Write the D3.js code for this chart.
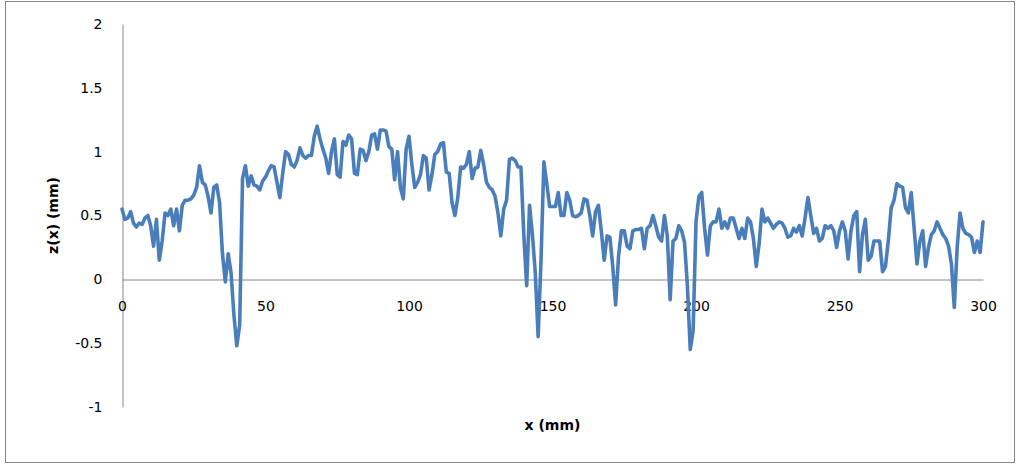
<!DOCTYPE html>
<html>
<head>
<meta charset="utf-8">
<script src="https://cdn.jsdelivr.net/npm/d3@7"></script>
<style>
  body { margin: 0; background: #fff; }
  text { font-family: "DejaVu Sans", Verdana, sans-serif; }
</style>
</head>
<body>
<div id="chart"></div>
<script>
// profile heights z(x), one reading per mm from 0 to 300
var zValues = [
  0.55, 0.47, 0.48, 0.53, 0.44, 0.41, 0.44, 0.43, 0.48, 0.5, 0.42, 0.26, 0.47, 0.15, 0.3, 0.52, 0.5, 0.55, 0.42, 0.55,
  0.38, 0.58, 0.62, 0.62, 0.63, 0.66, 0.72, 0.89, 0.76, 0.74, 0.65, 0.52, 0.72, 0.74, 0.6, 0.2, -0.02, 0.2, 0.05, -0.28,
  -0.52, -0.36, 0.79, 0.89, 0.73, 0.81, 0.74, 0.73, 0.7, 0.77, 0.8, 0.85, 0.89, 0.88, 0.76, 0.64, 0.83, 1.0, 0.98, 0.9,
  0.88, 0.93, 1.03, 0.97, 0.95, 0.97, 0.97, 1.12, 1.2, 1.1, 1.02, 0.95, 0.83, 1.0, 1.1, 0.82, 0.8, 1.08, 1.05, 1.13,
  1.1, 0.83, 0.82, 1.02, 1.01, 0.93, 1.0, 1.13, 1.14, 1.02, 1.17, 1.17, 1.16, 1.04, 1.02, 0.78, 1.0, 0.72, 0.63, 1.02,
  1.12, 0.9, 0.72, 0.76, 0.82, 0.97, 0.95, 0.7, 0.82, 0.98, 1.0, 1.06, 1.07, 0.84, 0.83, 0.6, 0.5, 0.64, 0.88, 0.87,
  0.9, 1.0, 0.79, 0.87, 0.88, 1.01, 0.9, 0.76, 0.72, 0.7, 0.65, 0.52, 0.34, 0.55, 0.62, 0.94, 0.95, 0.93, 0.88, 0.88,
  0.35, -0.05, 0.58, 0.35, 0.05, -0.45, 0.15, 0.92, 0.75, 0.57, 0.57, 0.57, 0.68, 0.5, 0.5, 0.68, 0.62, 0.5, 0.49, 0.5,
  0.52, 0.63, 0.62, 0.5, 0.34, 0.53, 0.58, 0.38, 0.15, 0.34, 0.33, 0.1, -0.2, 0.18, 0.38, 0.38, 0.26, 0.24, 0.38, 0.39,
  0.39, 0.4, 0.24, 0.4, 0.42, 0.5, 0.42, 0.33, 0.3, 0.5, 0.34, -0.16, 0.3, 0.32, 0.42, 0.38, 0.29, -0.05, -0.55, -0.4,
  0.45, 0.65, 0.68, 0.4, 0.19, 0.42, 0.45, 0.45, 0.55, 0.4, 0.45, 0.4, 0.48, 0.48, 0.4, 0.32, 0.4, 0.32, 0.48, 0.45,
  0.32, 0.1, 0.28, 0.55, 0.45, 0.48, 0.44, 0.4, 0.43, 0.45, 0.44, 0.4, 0.33, 0.34, 0.4, 0.37, 0.42, 0.34, 0.48, 0.64,
  0.5, 0.36, 0.4, 0.3, 0.32, 0.42, 0.4, 0.42, 0.38, 0.25, 0.38, 0.45, 0.38, 0.16, 0.38, 0.5, 0.53, 0.06, 0.35, 0.47,
  0.15, 0.18, 0.3, 0.3, 0.3, 0.06, 0.1, 0.3, 0.56, 0.62, 0.75, 0.73, 0.72, 0.56, 0.52, 0.68, 0.4, 0.12, 0.3, 0.38,
  0.1, 0.25, 0.35, 0.38, 0.45, 0.4, 0.35, 0.32, 0.26, 0.12, -0.22, 0.25, 0.52, 0.4, 0.36, 0.35, 0.33, 0.21, 0.3, 0.21,
  0.45
];
var xTicks = [0, 50, 100, 150, 200, 250, 300];
var yTicks = [-1, -0.5, 0, 0.5, 1, 1.5, 2];

var W = 1019, H = 465;
var margin = { top: 24, right: 36, bottom: 58, left: 122 },
    width = W - margin.left - margin.right,
    height = H - margin.top - margin.bottom;

var svg = d3.select("#chart")
  .append("svg")
    .attr("width", W)
    .attr("height", H);

// outer chart border
svg.append("rect")
  .attr("x", 5.5)
  .attr("y", 1.5)
  .attr("width", W - 10)
  .attr("height", H - 4)
  .attr("fill", "#fff")
  .attr("stroke", "#868686")
  .attr("stroke-width", 1);

var g = svg.append("g")
  .attr("transform", "translate(" + margin.left + "," + margin.top + ")");

var x = d3.scaleLinear().domain([0, 300]).range([0, width]);
var y = d3.scaleLinear().domain([-1, 2]).range([height, 0]);

// y axis: line at x=0, labels on the left (plain hyphen for negatives)
var yAxis = d3.axisLeft(y).tickValues(yTicks).tickSize(0).tickPadding(20)
  .tickFormat(function(d) { return String(d); });
var ya = g.append("g").attr("transform", "translate(0.5,0)").call(yAxis);
ya.select(".domain").attr("stroke", "#868686");
ya.selectAll("text").attr("font-size", "14px").attr("fill", "#000")
  .attr("font-family", "DejaVu Sans, sans-serif");

// x axis runs along z = 0
var xAxis = d3.axisBottom(x).tickValues(xTicks).tickSize(0).tickPadding(22);
var xa = g.append("g").attr("transform", "translate(0," + (Math.round(y(0)) + 0.5) + ")").call(xAxis);
xa.select(".domain").attr("stroke", "#868686");
xa.selectAll("text").attr("font-size", "14px").attr("fill", "#000")
  .attr("font-family", "DejaVu Sans, sans-serif");

// the profile line
var line = d3.line()
  .x(function(d, i) { return x(i); })
  .y(function(d) { return y(d); });

g.append("path")
  .datum(zValues)
  .attr("fill", "none")
  .attr("stroke", "#4a7ebb")
  .attr("stroke-width", 3.6)
  .attr("stroke-linejoin", "round")
  .attr("stroke-linecap", "round")
  .attr("d", line);

// axis titles
svg.append("text")
  .attr("transform", "translate(58," + (margin.top + height / 2) + ") rotate(-90)")
  .attr("text-anchor", "middle")
  .attr("font-size", "14px")
  .attr("font-weight", "bold")
  .text("z(x) (mm)");

svg.append("text")
  .attr("x", margin.left + width / 2)
  .attr("y", 430)
  .attr("text-anchor", "middle")
  .attr("font-size", "14px")
  .attr("font-weight", "bold")
  .text("x (mm)");
</script>
</body>
</html>
